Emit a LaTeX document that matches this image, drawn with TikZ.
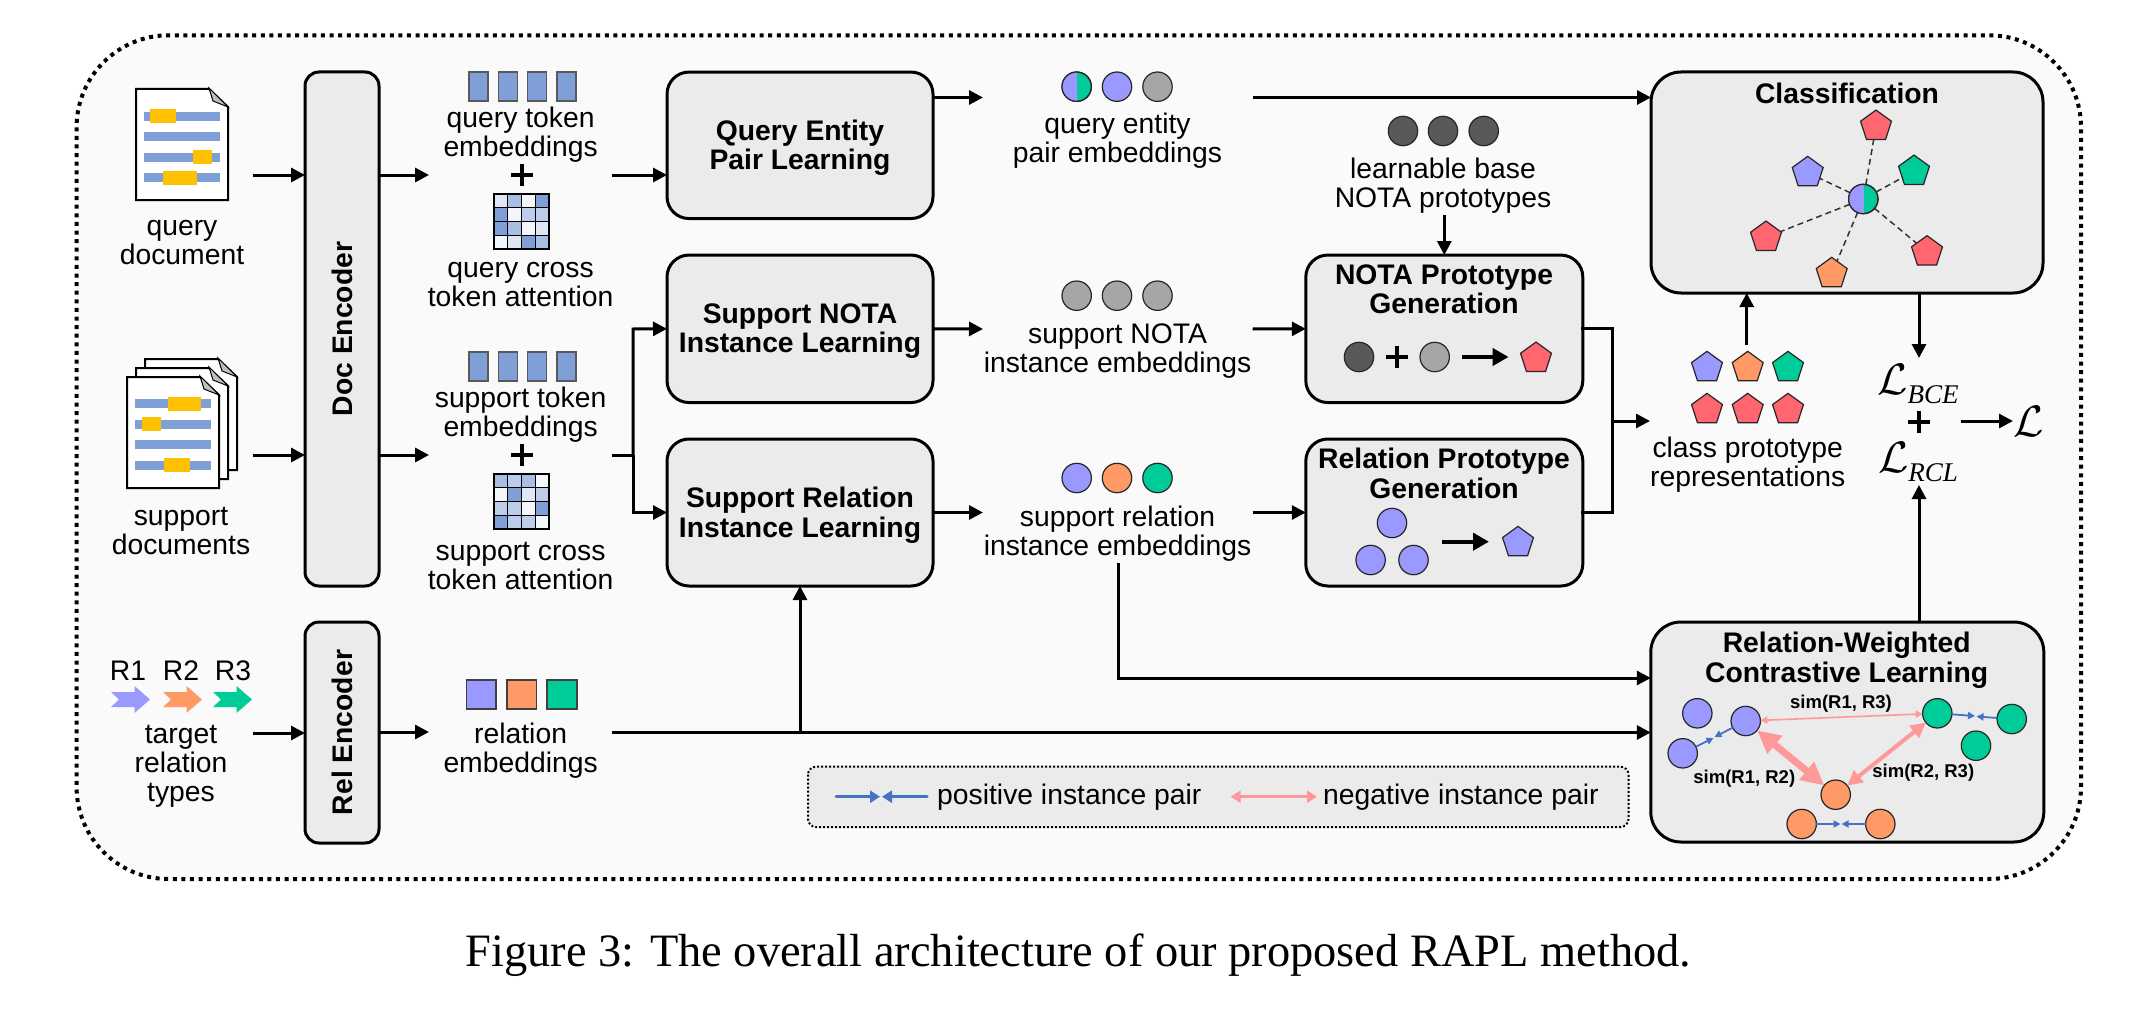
\documentclass[tikz,border=0pt]{standalone}
\usepackage{fontspec}
\setmainfont{Liberation Sans}
\newfontfamily\capfont{Liberation Serif}
\usetikzlibrary{arrows.meta,shapes.geometric,calc}
\definecolor{rblue}{HTML}{9999FF}
\definecolor{rorange}{HTML}{FF9966}
\definecolor{rgreen}{HTML}{00CC99}
\definecolor{rred}{HTML}{FF6670}
\definecolor{boxgray}{HTML}{EBEBEB}
\definecolor{bgpanel}{HTML}{FAFAFA}
\definecolor{tok}{HTML}{7F9FD6}
\definecolor{hl}{HTML}{FFC000}
\definecolor{posc}{HTML}{4472C4}
\definecolor{negc}{HTML}{FF9999}
\definecolor{darkc}{HTML}{595959}
\definecolor{greyc}{HTML}{A6A6A6}
\definecolor{hA}{HTML}{7F9FD6}
\definecolor{hB}{HTML}{A9BEE3}
\definecolor{hC}{HTML}{BCCCEA}
\definecolor{hD}{HTML}{DFE6F4}
\definecolor{hE}{HTML}{F3F6FB}
\tikzset{
  lab/.style={font=\fontsize{28.3}{29}\selectfont,align=center,inner sep=0pt,text=black,yshift=-2.5pt},
  boldlab/.style={font=\bfseries\fontsize{28.3}{29.5}\selectfont,align=center,inner sep=0pt,yshift=-2.5pt},
  rotlab/.style={font=\bfseries\fontsize{28.3}{29.5}\selectfont,inner sep=0pt,rotate=90},
  simlab/.style={font=\bfseries\fontsize{18.5}{20}\selectfont,inner sep=0pt},
  blk/.style={draw=black,fill=boxgray,line width=3pt,rounded corners=22pt,inner sep=0pt,outer sep=0pt},
  enc/.style={draw=black,fill=boxgray,line width=3pt,rounded corners=14pt,inner sep=0pt,outer sep=0pt,minimum width=74pt},
  big/.style={draw=black,fill=boxgray,line width=3pt,rounded corners=30pt,inner sep=0pt,outer sep=0pt},
  arr/.style={line width=3pt,-{Triangle[length=14pt,width=14pt]}},
  plain/.style={line width=3pt},
  dot/.style={circle,draw=black!85,line width=1.2pt,minimum size=29.4pt,inner sep=0pt,outer sep=0pt},
  pent/.style={regular polygon,regular polygon sides=5,minimum size=32.5pt,inner sep=0pt,outer sep=0pt,draw=black!85,line width=1.2pt},
  link/.style={line width=1.5pt,draw=black!80,dash pattern=on 6pt off 4pt},
  posarr/.style={line width=1.8pt,draw=posc,-{Triangle[length=7pt,width=7pt,fill=posc]}},
  negarr/.style={draw=negc,{Triangle[length=7pt,width=7pt]}-{Triangle[length=7pt,width=7pt]},line width=1.6pt},
  tokbar/.style={draw=black!65,fill=tok,line width=1.2pt},
  relsq/.style={draw=black!75,line width=1.2pt},
}
\newcommand{\docpage}[4]{%
  \filldraw[fill=white,draw=black,line width=2pt] (#1,#2) -- ({#3-19},#2) -- (#3,{#2+18}) -- (#3,#4) -- (#1,#4) -- cycle;
  \filldraw[fill=black!25,draw=black,line width=1pt] ({#3-19},{#2-1}) -- (#3,{#2+18}) -- ({#3-15},{#2+12}) -- cycle;}
\newcommand{\heat}[3]{%
  \foreach \c [count=\i from 0] in {#3} {
    \pgfmathsetmacro\cx{#1+13.75*mod(\i,4)}
    \pgfmathsetmacro\cy{#2+13.75*floor(\i/4)}
    \filldraw[fill=\c,draw=black,line width=1.2pt] (\cx,\cy) rectangle ++(13.75,13.75);
  }}
\newcommand{\halfdot}[3]{%
  \node[dot,fill=rgreen] (#1) at (#2,#3) {};
  \begin{scope}
    \clip ({#2+0.5-20},{#3-20}) rectangle ({#2+0.5},{#3+20});
    \fill[rblue] (#2,#3) circle (14.7pt);
  \end{scope}
  \node[dot] at (#2,#3) {};}
\newcommand{\chev}[2]{%
  \fill[#2] (#1,692) -- ++(23.5,0) -- ++(0,-6) -- ++(15.5,13.5) -- ++(-15.5,13.5) -- ++(0,-6) -- ++(-23.5,0) -- ++(8,-7.5) -- cycle;}
\newcommand{\plusmark}[2]{%
  \draw[line width=4.5pt] ({#1-11},#2) -- ({#1+11},#2);
  \draw[line width=4.5pt] (#1,{#2-11}) -- (#1,{#2+11});}
\begin{document}
\begin{tikzpicture}[x=1pt,y=-1pt]
\useasboundingbox (0,0) rectangle (2131,1014);
% panel
\draw[fill=bgpanel,draw=black,line width=4pt,dash pattern=on 4pt off 4.6pt,rounded corners=92pt] (76.6,35.3) rectangle (2081,879);

% documents
\docpage{136}{89}{228}{200}
\foreach \a in {112,132,153,173} \fill[tok] (144,\a) rectangle (220,{\a+9});
\fill[hl] (150,109) rectangle (176,123);
\fill[hl] (193,150) rectangle (212,164);
\fill[hl] (163,171) rectangle (197,185);
\node[lab] (qdoc) at (182,240) {query\\document};
\docpage{145}{359}{237}{470}
\docpage{136}{368}{228}{479}
\docpage{127}{377}{219}{488}
\foreach \a in {399,420,440,461} \fill[tok] (135,\a) rectangle (211,{\a+9});
\fill[hl] (168,397) rectangle (201,411);
\fill[hl] (142,417) rectangle (161,431);
\fill[hl] (164,458) rectangle (190,472);
\node[lab] (sdoc) at (181,528.5) {support\\documents};

% relation types
\node[lab] (r1) at (128,668.5) {R1};
\node[lab] (r2) at (181,668.5) {R2};
\node[lab] (r3) at (233,668.5) {R3};
\chev{111}{rblue}
\chev{163}{rorange}
\chev{213}{rgreen}
\node[lab] (rtypes) at (181,764) {target\\relation\\types};

% encoders
\node[enc,minimum height=514pt] (docenc) at (342,329) {};
\node[rotlab] at (docenc.center) {Doc Encoder};
\node[enc,minimum height=221pt] (relenc) at (342,732.5) {};
\node[rotlab] at (relenc.center) {Rel Encoder};

% token columns
\foreach \a in {469,498.5,527.5,557} {
  \filldraw[tokbar] (\a,72) rectangle ({\a+19},101);
  \filldraw[tokbar] (\a,352) rectangle ({\a+19},381);
}
\node[lab] (qtok) at (520.6,132.5) {query token\\embeddings};
\node[lab] (stok) at (520.6,412.5) {support token\\embeddings};
\plusmark{522}{175}
\plusmark{522}{455}
\heat{494}{194}{hD,hB,hE,hA,hA,hE,hC,hC,hA,hB,hE,hD,hE,hD,hA,hB}
\heat{494}{474}{hB,hC,hB,hE,hE,hA,hD,hC,hC,hC,hE,hA,hA,hC,hC,hE}
\node[lab] (qatt) at (520.6,282.5) {query cross\\token attention};
\node[lab] (satt) at (520.6,563.5) {support cross\\token attention};
\filldraw[relsq,fill=rblue] (466.5,680) rectangle (496,709);
\filldraw[relsq,fill=rorange] (507,680) rectangle (536.5,709);
\filldraw[relsq,fill=rgreen] (547,680) rectangle (577,709);
\node[lab] (relemb) at (520.6,748) {relation\\embeddings};

% learning blocks
\node[blk,minimum width=266pt,minimum height=146.5pt] (qep) at (800,145.3) {};
\node[boldlab] at (qep.center) {Query Entity\\Pair Learning};
\node[blk,minimum width=266pt,minimum height=147.5pt] (snota) at (800,328.8) {};
\node[boldlab] at (snota.center) {Support NOTA\\Instance Learning};
\node[blk,minimum width=266pt,minimum height=147pt] (srel) at (800,512.5) {};
\node[boldlab] at (srel.center) {Support Relation\\Instance Learning};

% embeddings
\halfdot{qe1}{1076.7}{86.7}
\node[dot,fill=rblue] (qe2) at (1117,86.7) {};
\node[dot,fill=greyc] (qe3) at (1157.5,86.7) {};
\node[lab] (qelab) at (1117.5,138.5) {query entity\\pair embeddings};
\node[dot,fill=darkc] (b1) at (1403,131) {};
\node[dot,fill=darkc] (b2) at (1443,131) {};
\node[dot,fill=darkc] (b3) at (1483.7,131) {};
\node[lab] (blab) at (1443,183) {learnable base\\NOTA prototypes};
\node[dot,fill=greyc] (sn1) at (1076.7,295.7) {};
\node[dot,fill=greyc] (sn2) at (1117,295.7) {};
\node[dot,fill=greyc] (sn3) at (1157.5,295.7) {};
\node[lab] (snlab) at (1117.5,348.5) {support NOTA\\instance embeddings};
\node[dot,fill=rblue] (sr1) at (1076.7,478) {};
\node[dot,fill=rorange] (sr2) at (1117,478) {};
\node[dot,fill=rgreen] (sr3) at (1157.5,478) {};
\node[lab] (srlab) at (1117.5,531.5) {support relation\\instance embeddings};

% prototype blocks
\node[blk,minimum width=277pt,minimum height=147.5pt] (npg) at (1444.3,328.8) {};
\node[boldlab,anchor=north] (npgt) at (1444,262) {NOTA Prototype\\Generation};
\node[dot,fill=darkc] (n1) at (1359,357) {};
\plusmark{1397}{357}
\node[dot,fill=greyc] (n2) at (1434.7,357) {};
\node[pent,fill=rred] (n3) at (1536,358.3) {};
\coordinate (n2e) at (1462,357);
\coordinate (n3w) at (1508.6,357);
\draw[line width=4pt,-{Triangle[length=16pt,width=17pt]}] (n2e) -- (n3w);
\node[blk,minimum width=277pt,minimum height=147pt] (rpg) at (1444.3,512.5) {};
\node[boldlab,anchor=north] (rpgt) at (1444,445.5) {Relation Prototype\\Generation};
\node[dot,fill=rblue] (p1) at (1392,523) {};
\node[dot,fill=rblue] (p2) at (1370.6,560) {};
\node[dot,fill=rblue] (p3) at (1413.5,560) {};
\node[pent,fill=rblue] (p4) at (1518,542.6) {};
\coordinate (p1e) at (1442,541.7);
\coordinate (p4w) at (1489,541.7);
\draw[line width=4pt,-{Triangle[length=16pt,width=17pt]}] (p1e) -- (p4w);

% class prototypes
\node[pent,fill=rblue] (c1) at (1707,367.6) {};
\node[pent,fill=rorange] (c2) at (1747.7,367.6) {};
\node[pent,fill=rgreen] (c3) at (1788,367.6) {};
\node[pent,fill=rred] (c4) at (1707,409.6) {};
\node[pent,fill=rred] (c5) at (1747.7,409.6) {};
\node[pent,fill=rred] (c6) at (1788,409.6) {};
\node[lab] (clab) at (1747.7,462.5) {class prototype\\representations};

% classification
\node[big,minimum width=392pt,minimum height=221pt] (cls) at (1847,182.5) {};
\node[boldlab] (clst) at (1847,91) {Classification};
\node[pent,fill=rred] (k1) at (1876,126.3) {};
\node[pent,fill=rblue] (k2) at (1807.7,172.6) {};
\node[pent,fill=rgreen] (k3) at (1914,171.3) {};
\node[pent,fill=rred] (k4) at (1766,237.3) {};
\node[pent,fill=rorange] (k5) at (1831.7,273.6) {};
\node[pent,fill=rred] (k6) at (1927,251.9) {};
\halfdot{kc}{1863.3}{199}
\foreach \k in {k1,k2,k3,k4,k5,k6} \draw[link] (kc) -- (\k);

% losses
\node[inner sep=0pt] (lbce) at (1918,384) {\scalebox{4.4}{$\mathcal{L}$}\raisebox{-9pt}{\fontsize{27}{27}\selectfont\capfont\itshape BCE}};
\plusmark{1919}{422}
\node[inner sep=0pt] (lrcl) at (1918,462) {\scalebox{4.4}{$\mathcal{L}$}\raisebox{-9pt}{\fontsize{27}{27}\selectfont\capfont\itshape RCL}};
\node[inner sep=0pt] (lall) at (2029,421.5) {\scalebox{4.4}{$\mathcal{L}$}};

% contrastive learning
\node[big,minimum width=393pt,minimum height=220pt] (rcl) at (1847.3,732) {};
\node[boldlab] (rclt) at (1846.7,657.5) {Relation-Weighted\\Contrastive Learning};
\node[dot,fill=rblue] (ba) at (1697.3,713.3) {};
\node[dot,fill=rblue] (bb) at (1745.7,721) {};
\node[dot,fill=rblue] (bc) at (1682.7,753.3) {};
\node[dot,fill=rgreen] (ga) at (1937.3,713.3) {};
\node[dot,fill=rgreen] (gb) at (2011.7,719) {};
\node[dot,fill=rgreen] (gc) at (1976,745.7) {};
\node[dot,fill=rorange] (oa) at (1835.7,794.7) {};
\node[dot,fill=rorange] (ob) at (1801.7,824) {};
\node[dot,fill=rorange] (oc) at (1880.3,824) {};
\coordinate (pm1l) at (1713.5,738);
\coordinate (pm1r) at (1714.5,737);
\coordinate (pm2l) at (1975,716);
\coordinate (pm2r) at (1976.5,716.5);
\coordinate (pm3l) at (1840.5,824);
\coordinate (pm3r) at (1841.5,824);
\draw[posarr] (bc) -- (pm1l);
\draw[posarr] (bb) -- (pm1r);
\draw[posarr] (ga) -- (pm2l);
\draw[posarr] (gb) -- (pm2r);
\draw[posarr] (ob) -- (pm3l);
\draw[posarr] (oc) -- (pm3r);
\draw[negarr] (bb) -- (ga);
\draw[draw=negc,line width=7pt,{Triangle[length=23pt,width=22pt]}-{Triangle[length=23pt,width=22pt]}] (bb) -- (oa);
\draw[draw=negc,line width=4pt,{Triangle[length=15pt,width=15pt]}-{Triangle[length=15pt,width=15pt]}] (oa) -- (ga);
\node[simlab] (s13) at (1841,704) {sim(R1, R3)};
\node[simlab] (s12) at (1744.3,779) {sim(R1, R2)};
\node[simlab] (s23) at (1923.3,773) {sim(R2, R3)};

% legend
\draw[fill=boxgray,draw=black,line width=2pt,dash pattern=on 2pt off 2pt,rounded corners=8pt] (808,766.7) rectangle (1628.5,827);
\coordinate (lg1) at (836,796.7);
\coordinate (lg2) at (880,796.7);
\coordinate (lg3) at (927,796.7);
\coordinate (lg4) at (882,796.7);
\coordinate (lg5) at (1230.6,796.7);
\coordinate (lg6) at (1317,796.7);
\draw[posc,line width=3pt,line cap=round,-{Triangle[length=10pt,width=12pt]}] (lg1) -- (lg2);
\draw[posc,line width=3pt,line cap=round,-{Triangle[length=10pt,width=12pt]}] (lg3) -- (lg4);
\draw[negc,line width=3pt,{Triangle[length=10pt,width=12pt]}-{Triangle[length=10pt,width=12pt]}] (lg5) -- (lg6);
\node[lab,anchor=west] (lgp) at (937,794.5) {positive instance pair};
\node[lab,anchor=west] (lgn) at (1323,794.5) {negative instance pair};

% connectors
\coordinate (qdocout) at (252.6,175);
\coordinate (sdocout) at (252.6,455);
\coordinate (rtout) at (252.6,733);
\draw[arr] (qdocout) -- (docenc.west |- qdocout);
\draw[arr] (sdocout) -- (docenc.west |- sdocout);
\draw[arr] (rtout) -- (relenc.west |- rtout);
\coordinate (qtokin) at (429,175);
\coordinate (stokin) at (429,455);
\coordinate (rembin) at (429,732);
\draw[arr] (docenc.east |- qtokin) -- (qtokin);
\draw[arr] (docenc.east |- stokin) -- (stokin);
\draw[arr] (relenc.east |- rembin) -- (rembin);
\coordinate (qtokout) at (612,175);
\coordinate (stokout) at (612,455);
\coordinate (rembout) at (612,732.5);
\coordinate (fork) at (633,455);
\draw[arr] (qtokout) -- (qep.west |- qtokout);
\draw[plain] (stokout) -- (fork);
\draw[arr] (fork) -- (633,329) -- (snota.west);
\draw[arr] (fork) -- (633,512.5) -- (srel.west);
\coordinate (qeout) at (983,97.5);
\coordinate (snout) at (983,329);
\coordinate (srout) at (983,512.5);
\draw[arr] (qep.east |- qeout) -- (qeout);
\draw[arr] (snota.east) -- (snout);
\draw[arr] (srel.east) -- (srout);
\coordinate (qelong) at (1252.6,97.5);
\coordinate (snlong) at (1252.6,329);
\coordinate (srlong) at (1252.6,512.5);
\draw[arr] (qelong) -- (cls.west |- qelong);
\draw[arr] (snlong) -- (npg.west);
\draw[arr] (srlong) -- (rpg.west);
\coordinate (blabout) at (1444.3,215);
\draw[arr] (blabout) -- (npg.north);
\coordinate (merge) at (1612,421);
\coordinate (clsin) at (1650,421);
\draw[plain,line cap=rect] (npg.east) -- (merge |- npg.east) -- (merge |- rpg.east) -- (rpg.east);
\draw[arr] (merge) -- (clsin);
\coordinate (cup) at (1746.7,345);
\draw[arr] (cup) -- (cup |- cls.south);
\coordinate (lin) at (1919,358);
\draw[arr] (lin |- cls.south) -- (lin);
\coordinate (lup) at (1919,485);
\draw[arr] (lup |- rcl.north) -- (lup);
\coordinate (lsum) at (1961,421);
\coordinate (lfin) at (2013,421);
\draw[arr] (lsum) -- (lfin);
\coordinate (srdown) at (1118,563);
\coordinate (srbend) at (1118,678);
\draw[arr,line width=3pt] (srdown) -- (srbend) -- (rcl.west |- srbend);
\draw[arr] (rembout) -- (rcl.west |- rembout);
\coordinate (relup) at (800,732.5);
\draw[arr] (relup) -- (srel.south);

% caption
\node[inner sep=0pt,font=\capfont\fontsize{46.4}{48}\selectfont] (cap) at (1078.5,955) {Figure 3: The overall architecture of our proposed RAPL method.};
\end{tikzpicture}
\end{document}
